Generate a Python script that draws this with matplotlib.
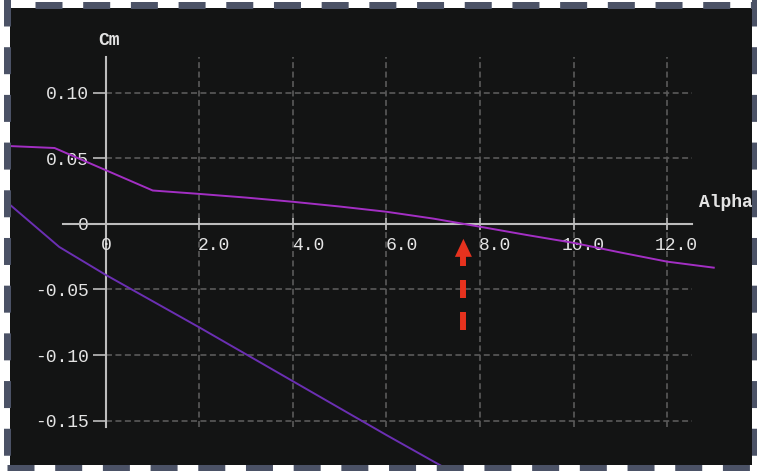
import numpy as np
import matplotlib
matplotlib.use("Agg")
import matplotlib.pyplot as plt
import matplotlib.transforms as mtransforms
from matplotlib.lines import Line2D
from matplotlib.patches import Polygon

# Pitching-moment coefficient Cm against angle of attack (deg)
alpha_upper = [-2.2, -1.1, 1.0, 2.0, 3.0, 4.0, 5.0, 6.0, 7.0, 8.0, 9.0, 10.0, 11.0, 12.0, 13.0]
cm_upper = [0.0595, 0.0578, 0.0254, 0.0228, 0.0200, 0.0168, 0.0132, 0.0092, 0.0040,
            -0.0022, -0.0085, -0.0145, -0.0218, -0.0288, -0.0334]

alpha_lower = [-2.2, -1.0, 0.0, 1.0, 2.0, 3.0, 4.0, 5.0, 6.0, 7.0, 8.0]
cm_lower = [0.0190, -0.0176, -0.0390, -0.0590, -0.0790, -0.0995, -0.1200, -0.1405,
            -0.1610, -0.1810, -0.2010]

x_ticks = [0, 2, 4, 6, 8, 10, 12]
x_tick_labels = ["0", "2.0", "4.0", "6.0", "8.0", "10.0", "12.0"]
y_ticks = [0.10, 0.05, 0.0, -0.05, -0.10, -0.15]
y_tick_labels = ["0.10", "0.05", "0", "-0.05", "-0.10", "-0.15"]

plt.rcParams["font.family"] = ["Liberation Mono", "DejaVu Sans Mono"]
plt.rcParams["lines.scale_dashes"] = False

W, H = 757, 471
fig = plt.figure(figsize=(W / 100, H / 100), dpi=100, facecolor="white")
ax = fig.add_axes([10 / W, 6 / H, 742 / W, 457 / H])
ax.set_facecolor("#131414")
ax.set_xlim(-2.053, 13.818)
ax.set_ylim(-0.1838, 0.1645)

axis_col = "#bdbdbd"
grid_col = "#5a5a5a"
text_col = "#e4e4e4"
y_top, y_bot = 0.1275, -0.155
x_left, x_right = -0.92, 12.53

for s in ("top", "right"):
    ax.spines[s].set_visible(False)
ax.spines["left"].set_position(("data", 0))
ax.spines["left"].set_bounds(y_bot, y_top)
ax.spines["bottom"].set_position(("data", 0))
ax.spines["bottom"].set_bounds(x_left, x_right)
for s in ("left", "bottom"):
    ax.spines[s].set_color(axis_col)
    ax.spines[s].set_linewidth(1.5)
    ax.spines[s].set_zorder(2)

ax.set_yticks(y_ticks, y_tick_labels)
ax.tick_params(axis="y", direction="out", length=9.4, width=1.2, color=axis_col,
               pad=3, labelcolor=text_col, labelsize=13)
ax.set_xticks(x_ticks, [""] * len(x_ticks))
ax.tick_params(axis="x", direction="inout", length=8, width=1.2, color=axis_col)

# dashed grid inside the axis frame
grid_dash = (0, (4.3, 2.5))
ax.vlines(x_ticks[1:], y_bot, y_top, colors=grid_col, linestyles=grid_dash, lw=1.2, zorder=1)
ax.hlines([v for v in y_ticks if v != 0], 0, x_right, colors=grid_col,
          linestyles=grid_dash, lw=1.2, zorder=1)

# x tick labels sit just under the zero line
for v, lab in zip(x_ticks, x_tick_labels):
    if v == 0:
        ax.annotate(lab, (v, 0), xytext=(0, -18.7), textcoords="offset points",
                    ha="center", va="baseline", color=text_col, fontsize=13)
    else:
        ax.annotate(lab, (v, 0), xytext=(22.3, -18.7), textcoords="offset points",
                    ha="right", va="baseline", color=text_col, fontsize=13)

ax.plot(alpha_upper, cm_upper, color="#a32fc4", lw=1.4, zorder=3)
ax.plot(alpha_lower, cm_lower, color="#6b2fb3", lw=1.4, zorder=3)

ax.text(-0.17, 0.1397, "Cm", ha="left", va="center", color=text_col,
        fontsize=13, fontweight="bold")
ax.text(12.68, 0.0166, "Alpha", ha="left", va="center", color=text_col,
        fontsize=13, fontweight="bold", clip_on=True)

# red arrow pointing at the trim angle (Cm = 0)
trim_alpha = float(np.interp(0.0, cm_upper[::-1], alpha_upper[::-1]))
fig.canvas.draw()
rel = fig.dpi_scale_trans + mtransforms.ScaledTranslation(trim_alpha, 0.0, ax.transData)
red = "#e6321e"
ax.add_artist(Line2D([0, 0], [-1.06, -0.31], transform=rel, color=red, lw=4.3,
                     solid_capstyle="butt", dash_capstyle="butt",
                     linestyle=(0, (12.96, 10.08)), zorder=5))
ax.add_patch(Polygon([[0, -0.15], [-0.085, -0.33], [0.085, -0.33]], closed=True,
                     transform=rel, facecolor=red, edgecolor="none", zorder=5))

# dashed frame around the panel
frame_col = "#4b5266"
frame_kw = dict(transform=fig.dpi_scale_trans, color=frame_col, lw=5.04,
                linestyle=(0, (19.44, 14.9)), dash_capstyle="butt")
fig.add_artist(Line2D([35 / 100, W / 100], [(H - 5) / 100] * 2, **frame_kw))
fig.add_artist(Line2D([7 / 100, W / 100], [3 / 100] * 2, **frame_kw))
fig.add_artist(Line2D([6.5 / 100] * 2, [(H + 1.7) / 100, 0], **frame_kw))
fig.add_artist(Line2D([754.5 / 100] * 2, [(H + 1) / 100, 0], **frame_kw))

fig.savefig("out.png", dpi=100, facecolor="white")
